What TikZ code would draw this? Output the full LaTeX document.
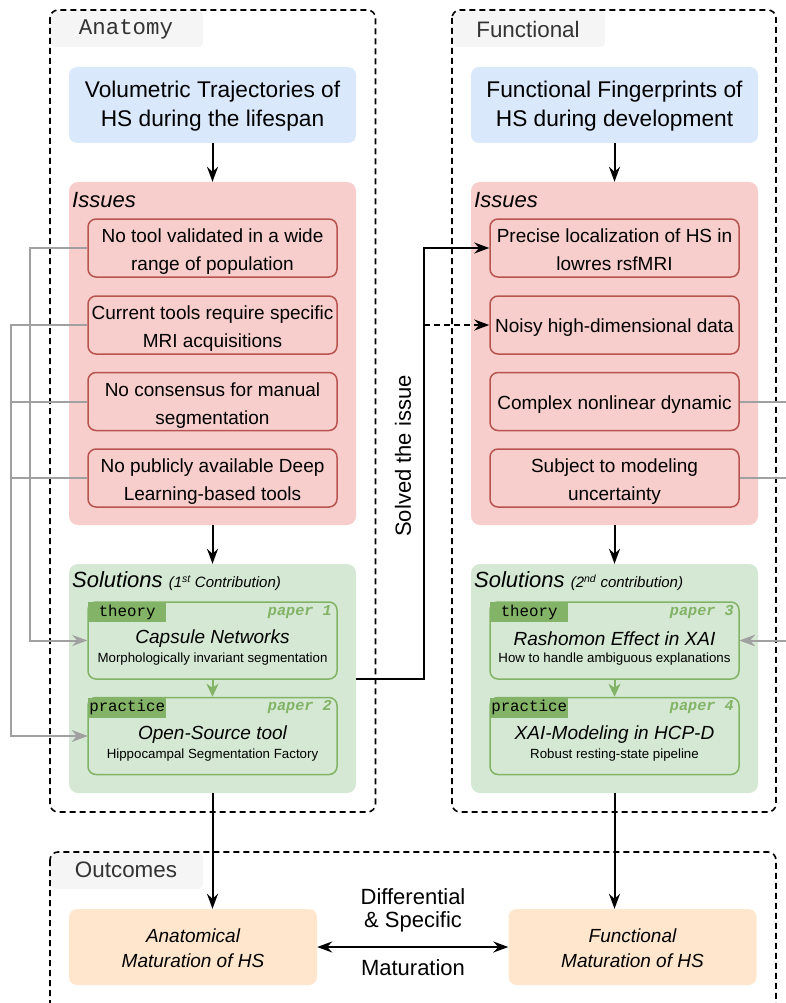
\documentclass[tikz,border=0pt]{standalone}
\usepackage{fontspec}
\setmainfont{Liberation Sans}
\setmonofont{Liberation Mono}
\usetikzlibrary{arrows.meta,positioning}

\definecolor{hsblue}{HTML}{DAE8FC}
\definecolor{hsred}{HTML}{F8CECC}
\definecolor{hsredline}{HTML}{B85450}
\definecolor{hsgreen}{HTML}{D5E8D4}
\definecolor{hsgreenline}{HTML}{82B366}
\definecolor{hsorange}{HTML}{FFE6CC}
\definecolor{hslabel}{HTML}{F5F5F5}
\definecolor{hsgray}{HTML}{A0A0A0}

\tikzset{
  hstip/.tip={Stealth[length=15pt,width=11pt,inset=5pt]},
  group/.style={draw, line width=1.6pt, dash pattern=on 6pt off 4pt, rounded corners=8pt},
  grouplabel/.style={fill=hslabel, rounded corners=6pt, minimum width=153pt, minimum height=37pt, anchor=north west},
  titlebox/.style={fill=hsblue, rounded corners=8pt, minimum width=287pt, minimum height=76pt, align=center, text height=44pt, text depth=0pt, font=\fontsize{22.7}{29}\selectfont},
  panel/.style={rounded corners=9pt, minimum width=287pt},
  issue/.style={draw=hsredline, fill=hsred, line width=1.5pt, rounded corners=8pt, minimum width=249pt, minimum height=58pt, align=center, inner sep=0pt, text height=45.6pt, text depth=0pt, font=\fontsize{19}{28}\selectfont},
  oneline/.style={text height=15pt},
  contrib/.style={draw=hsgreenline, fill=hsgreen, line width=1.5pt, rounded corners=8pt, minimum width=249pt, minimum height=77pt},
  tag/.style={fill=hsgreenline, minimum width=78pt, minimum height=20pt, anchor=north west, inner sep=0pt, font=\ttfamily\fontsize{15.8}{16}\selectfont},
  paper/.style={anchor=north east, inner sep=0pt, text=hsgreenline, font=\ttfamily\bfseries\itshape\fontsize{15.2}{16}\selectfont},
  contribtitle/.style={font=\itshape\fontsize{19}{22}\selectfont},
  contribsub/.style={font=\fontsize{13.3}{16}\selectfont},
  outcome/.style={fill=hsorange, rounded corners=8pt, minimum width=248pt, minimum height=76pt, align=center, text height=41.6pt, text depth=0pt, font=\itshape\fontsize{19}{25}\selectfont},
  flow/.style={line width=2pt, -hstip},
  link/.style={hsgray, line width=2pt, -hstip}
}

\begin{document}
\begin{tikzpicture}[x=1pt, y=-1pt]
\useasboundingbox (0,0) rectangle (785,1003);

% group frames
\node[grouplabel] (labA) at (50,10) {};
\node[text=black!80, font=\ttfamily\fontsize{22.4}{24}\selectfont] (labAt) at (126,29.5) {Anatomy};
\node[grouplabel] (labF) at (452,10) {};
\node[text=black!80, font=\fontsize{22.4}{24}\selectfont] (labFt) at (528,29) {Functional};
\node[grouplabel] (labO) at (50,852) {};
\node[text=black!80, font=\fontsize{22.4}{24}\selectfont] (labOt) at (126,870) {Outcomes};
\draw[group] (50,10) rectangle (375.5,812);
\draw[group] (452,10) rectangle (776,812);
\draw[group] (50,852) rectangle (776,1030);

% titles
\node[titlebox] (tL) at (212.5,105) {Volumetric Trajectories of\\HS during the lifespan};
\node[titlebox] (tR) at (614.5,105) {Functional Fingerprints of\\HS during development};

% issues
\node[panel, fill=hsred, minimum height=343pt] (iPL) at (212.5,353.5) {};
\node[panel, fill=hsred, minimum height=343pt] (iPR) at (614.5,353.5) {};
\node[anchor=west, inner sep=0pt, font=\itshape\fontsize{22}{24}\selectfont] (iPLt) at (72,200) {Issues};
\node[anchor=west, inner sep=0pt, font=\itshape\fontsize{22}{24}\selectfont] (iPRt) at (474,200) {Issues};

\node[issue] (iL1) at (212.5,248) {No tool validated in a wide\\range of population};
\node[issue] (iL2) at (212.5,325) {Current tools require specific\\MRI acquisitions};
\node[issue] (iL3) at (212.5,401.5) {No consensus for manual\\segmentation};
\node[issue] (iL4) at (212.5,478) {No publicly available Deep\\Learning-based tools};

\node[issue] (iR1) at (614.5,248) {Precise localization of HS in\\lowres rsfMRI};
\node[issue, oneline] (iR2) at (614.5,325) {Noisy high-dimensional data};
\node[issue, oneline] (iR3) at (614.5,401.5) {Complex nonlinear dynamic};
\node[issue] (iR4) at (614.5,478) {Subject to modeling\\uncertainty};

% solutions
\node[panel, fill=hsgreen, minimum height=229pt] (sPL) at (212.5,678.5) {};
\node[panel, fill=hsgreen, minimum height=229pt] (sPR) at (614.5,678.5) {};
\node[anchor=west, inner sep=0pt] (sPLt) at (72,581) {\itshape\fontsize{22}{24}\selectfont Solutions \fontsize{15}{18}\selectfont(1\textsuperscript{st} Contribution)};
\node[anchor=west, inner sep=0pt] (sPRt) at (474,581) {\itshape\fontsize{22}{24}\selectfont Solutions \fontsize{15}{18}\selectfont(2\textsuperscript{nd} contribution)};

\node[contrib] (thL) at (212.5,640.5) {};
\node[contrib] (prL) at (212.5,736) {};
\node[contrib] (thR) at (614.5,640.5) {};
\node[contrib] (prR) at (614.5,736) {};

\node[tag] (thLtag) at (88,602) {theory};
\node[tag] (prLtag) at (88,697.5) {practice};
\node[tag] (thRtag) at (490,602) {theory};
\node[tag] (prRtag) at (490,697.5) {practice};
\node[paper] (thLp) at (332,605.5) {paper 1};
\node[paper] (prLp) at (332,700.5) {paper 2};
\node[paper] (thRp) at (734,605.5) {paper 3};
\node[paper] (prRp) at (734,700.5) {paper 4};

\node[contribtitle] (thLn) at (212.5,638.5) {Capsule Networks};
\node[contribsub] (thLs) at (212.5,659) {Morphologically invariant segmentation};
\node[contribtitle] (prLn) at (212.5,734.5) {Open-Source tool};
\node[contribsub] (prLs) at (212.5,755) {Hippocampal Segmentation Factory};
\node[contribtitle] (thRn) at (614.5,638.5) {Rashomon Effect in XAI};
\node[contribsub] (thRs) at (614.5,659) {How to handle ambiguous explanations};
\node[contribtitle] (prRn) at (614.5,734.5) {XAI-Modeling in HCP-D};
\node[contribsub] (prRs) at (614.5,755) {Robust resting-state pipeline};

\draw[hsgreenline, line width=2pt, -{Stealth[length=13pt,width=12pt,inset=4pt]}] (thL) -- (prL);
\draw[hsgreenline, line width=2pt, -{Stealth[length=13pt,width=12pt,inset=4pt]}] (thR) -- (prR);

% outcomes
\node[outcome] (oL) at (193,947) {Anatomical\\Maturation of HS};
\node[outcome] (oR) at (632.5,947) {Functional\\Maturation of HS};
\node[align=center, font=\fontsize{22}{23}\selectfont] (oDiff) at (413,910) {Differential\\\& Specific};
\node[font=\fontsize{22}{23}\selectfont] (oMat) at (413,968) {Maturation};

% main flow
\draw[flow] (tL) -- (iPL);
\draw[flow] (tR) -- (iPR);
\draw[flow] (iPL) -- (sPL);
\draw[flow] (iPR) -- (sPR);
\draw[flow] (sPL.south) -- (sPL.south |- oL.north);
\draw[flow] (sPR.south) -- (sPR.south |- oR.north);
\draw[line width=2pt, hstip-hstip] (oL) -- (oR);

% solved issues
\draw[flow] (sPL.east) -- ++(68,0) coordinate (solved) |- (iR1.west);
\coordinate (split) at (solved |- iR2.west);
\draw[flow, dash pattern=on 6pt off 4pt] (split) -- (iR2.west);
\node[rotate=90, font=\fontsize{22}{24}\selectfont] (solvedt) at (403,456) {Solved the issue};

% issue links
\draw[link] (iL1.west) -- ++(-57,0) |- (thL.west);
\foreach \n in {2,3,4}
  \draw[link] (iL\n.west) -- ++(-76,0) |- (prL.west);
\foreach \n in {3,4}
  \draw[link] (iR\n.east) -- ++(60,0) |- (thR.east);
\end{tikzpicture}
\end{document}
